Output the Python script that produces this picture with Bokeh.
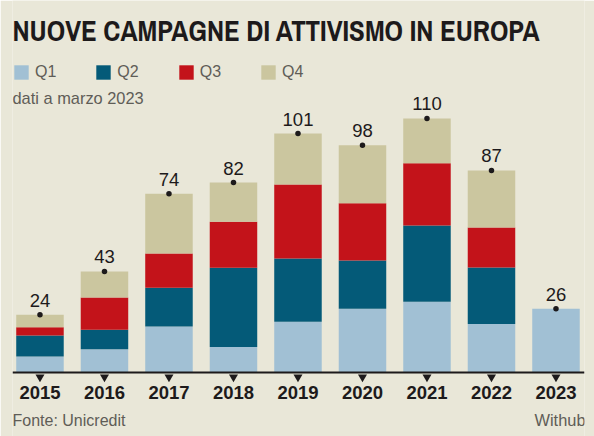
from bokeh.core.properties import value
from bokeh.embed import file_html
from bokeh.models import BasicTickFormatter, ColumnDataSource, FixedTicker, Label, Legend, LegendItem, Range1d
from bokeh.plotting import figure
from bokeh.resources import INLINE

title = "NUOVE CAMPAGNE DI ATTIVISMO IN EUROPA"
subtitle = "dati a marzo 2023"
source_note = "Fonte: Unicredit"
credit = "Withub"
years = [2015, 2016, 2017, 2018, 2019, 2020, 2021, 2022, 2023]
quarters = ["Q1", "Q2", "Q3", "Q4"]
q1 = [6.8, 9.9, 19.6, 10.9, 21.6, 27.1, 30.1, 20.6, 27.1]
q2 = [8.9, 8.3, 16.5, 33.7, 26.9, 20.6, 32.5, 24.1, 0]
q3 = [3.6, 13.7, 14.5, 19.6, 31.5, 24.3, 26.4, 17.0, 0]
q4 = [5.3, 11.1, 25.5, 16.6, 21.7, 24.7, 19.1, 24.3, 0]
totals = [24, 43, 74, 82, 101, 98, 110, 87, 26]
colors = ["#a1c0d4", "#045a78", "#c3131a", "#cbc69f"]

BG = "#e9e7d8"
INK = "#1d1a1b"
GREY = "#5f5d57"
PX = 2.35  # pixels per unit

tops = [a + b + c + d for a, b, c, d in zip(q1, q2, q3, q4)]
src = ColumnDataSource(dict(year=years, Q1=q1, Q2=q2, Q3=q3, Q4=q4, top=tops,
                            label=[str(t) for t in totals],
                            tick=[-4.5 / PX] * len(years)))

p = figure(width=594, height=436, output_backend="svg", toolbar_location=None,
           x_range=Range1d(2014.574, 2023.442), y_range=Range1d(-64 / PX, 372 / PX),
           min_border_left=12, min_border_right=10, min_border_top=0, min_border_bottom=0,
           background_fill_color=BG, border_fill_color=BG, outline_line_color=None,
           x_axis_location="below")
p.grid.visible = False
p.yaxis.visible = False

bars = p.vbar_stack(quarters, x="year", width=47.5 / 64.5, source=src, color=colors, line_color=None)

p.scatter(x="year", y="tick", source=src, marker="inverted_triangle", size=9,
          color=INK, line_color=None)
p.scatter(x="year", y="top", source=src, marker="circle", size=5.5, color=INK, line_color=None)
p.text(x="year", y="top", text="label", source=src, text_align="center", text_baseline="bottom",
       y_offset=-8, text_font=value("Liberation Sans"), text_font_size="18.5px", text_color=INK)

ax = p.xaxis[0]
ax.fixed_location = 0
ax.ticker = FixedTicker(ticks=years)
ax.formatter = BasicTickFormatter(use_scientific=False)
ax.axis_line_color = INK
ax.axis_line_width = 2
ax.major_tick_line_color = None
ax.minor_tick_line_color = None
ax.major_label_standoff = 7
ax.major_label_text_font = "Liberation Sans"
ax.major_label_text_font_style = "bold"
ax.major_label_text_font_size = "18.5px"
ax.major_label_text_color = INK

legend = Legend(items=[LegendItem(label=q, renderers=[r]) for q, r in zip(quarters, bars)],
                orientation="horizontal", location=(0, 355), background_fill_alpha=0,
                border_line_color=None, padding=0, margin=0, spacing=38,
                glyph_width=18, glyph_height=18, label_standoff=5,
                label_text_font="Liberation Sans", label_text_font_size="16px",
                label_text_color=GREY)
p.add_layout(legend)


def put(x, y, text, **kw):
    p.add_layout(Label(x=x, y=y, text=text, x_units="screen", y_units="screen",
                       text_font=kw.pop("font", "Liberation Sans"), **kw))


put(0, 387, title, font="Archivo Narrow", text_font_style="bold",
    text_font_size="28.9px", text_color=INK)
put(0, 330, subtitle, text_font_size="16.4px", text_color=GREY)
put(0, 8, source_note, text_font_size="16px", text_color=GREY)
put(573, 8, credit, text_font_size="16.4px", text_color=GREY, text_align="right")

open("out.html", "w").write(file_html(p, INLINE))
